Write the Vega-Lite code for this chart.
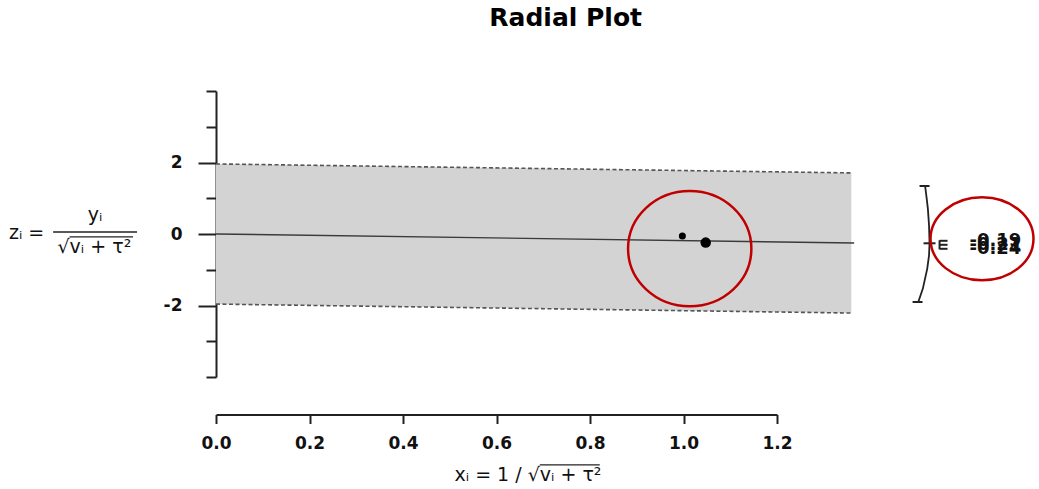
{
  "$schema": "https://vega.github.io/schema/vega-lite/v6.json",
  "width": 561,
  "height": 286,
  "autosize": {"type": "none"},
  "padding": {"left": 216, "top": 91, "right": 262, "bottom": 112},
  "background": "white",
  "config": {"view": {"stroke": null}},
  "datasets": {
    "band": [
      {"x": 0, "y": -1.96, "y2": 1.96},
      {"x": 1.359, "y": -2.211, "y2": 1.709}
    ],
    "bounds": [
      {"x": 0, "y": 1.96, "side": "upper"},
      {"x": 1.359, "y": 1.709, "side": "upper"},
      {"x": 0, "y": -1.96, "side": "lower"},
      {"x": 1.359, "y": -2.211, "side": "lower"}
    ],
    "fit": [
      {"x": 0, "y": 0},
      {"x": 1.365, "y": -0.252}
    ],
    "studies": [
      {"study": "1", "x": 0.9976, "y": -0.056, "w": 0.31},
      {"study": "2", "x": 1.0475, "y": -0.2406, "w": 0.69}
    ],
    "arc": [
      {"x": 1.5171, "y": 1.315},
      {"x": 1.5199, "y": 1.027},
      {"x": 1.5227, "y": 0.7105},
      {"x": 1.5252, "y": 0.243},
      {"x": 1.5263, "y": -0.26},
      {"x": 1.5252, "y": -0.596},
      {"x": 1.5214, "y": -0.968},
      {"x": 1.512, "y": -1.527},
      {"x": 1.5028, "y": -1.883}
    ],
    "hsegs": [
      {"part": "arc top tick", "x": 1.5049, "x2": 1.5263, "y": 1.343},
      {"part": "arc bottom tick", "x": 1.49, "x2": 1.5113, "y": -1.902},
      {"part": "arc estimate tick", "x": 1.5135, "x2": 1.5391, "y": -0.26},
      {"part": "label tick", "x": 1.5477, "x2": 1.5648, "y": -0.19},
      {"part": "label tick", "x": 1.5477, "x2": 1.5648, "y": -0.302},
      {"part": "label tick", "x": 1.5477, "x2": 1.5648, "y": -0.414},
      {"part": "fraction bar", "x": -0.3484, "x2": -0.1689, "y": 0.056},
      {"part": "root bar", "x": -0.3132, "x2": -0.1774, "y": -0.078},
      {"part": "root bar", "x": 0.6926, "x2": 0.8209, "y": -6.456}
    ],
    "vsegs": [
      {"x": 1.5477, "y": -0.176, "y2": -0.428}
    ],
    "estlabels": [
      {"x": 1.6118, "y": -0.19, "text": "-0.19"},
      {"x": 1.6118, "y": -0.302, "text": "-0.21"},
      {"x": 1.6118, "y": -0.414, "text": "-0.24"}
    ],
    "texts": [
      {"kind": "title", "x": 0.748, "y": 5.81, "text": "Radial Plot"},
      {"kind": "center", "x": -0.4051, "y": -0.129, "text": "zᵢ ="},
      {"kind": "center", "x": -0.2587, "y": 0.369, "text": "yᵢ"},
      {"kind": "right", "x": -0.3132, "y": -0.54, "text": "√"},
      {"kind": "left", "x": -0.3132, "y": -0.54, "text": "vᵢ + τ²"},
      {"kind": "right", "x": 0.6926, "y": -6.917, "text": "xᵢ = 1 / √"},
      {"kind": "left", "x": 0.6926, "y": -6.917, "text": "vᵢ + τ²"}
    ],
    "marks": [
      {"id": "a", "x": 1.0133, "y": -0.408},
      {"id": "b", "x": 1.6385, "y": -0.134}
    ]
  },
  "encoding": {
    "x": {
      "field": "x", "type": "quantitative",
      "scale": {"domain": [0, 1.2], "nice": false, "zero": false},
      "axis": {
        "values": [0, 0.2, 0.4, 0.6, 0.8, 1, 1.2],
        "format": ".1f",
        "title": null, "grid": false,
        "offset": 37.5,
        "tickSize": 9, "tickWidth": 2, "tickColor": "#222",
        "domainColor": "#222", "domainWidth": 2,
        "labelFont": "DejaVu Sans", "labelFontWeight": "bold", "labelFontSize": 17,
        "labelColor": "#111", "labelPadding": 12,
        "labelFlush": false, "labelOverlap": false
      }
    },
    "y": {
      "field": "y", "type": "quantitative",
      "scale": {"domain": [-4, 4], "nice": false, "zero": false},
      "axis": {
        "values": [-4, -3, -2, -1, 0, 1, 2, 3, 4],
        "labelExpr": "datum.value === 2 ? '2' : datum.value === 0 ? '0' : datum.value === -2 ? '-2' : ''",
        "title": null, "grid": false,
        "tickSize": {"condition": {"test": "datum.value === 2 || datum.value === 0 || datum.value === -2", "value": 18}, "value": 10},
        "tickWidth": 2, "tickColor": "#222",
        "domainColor": "#222", "domainWidth": 2,
        "labelFont": "DejaVu Sans", "labelFontWeight": "bold", "labelFontSize": 17,
        "labelColor": "#111", "labelPadding": 16,
        "labelOverlap": false, "labelFlush": false
      }
    }
  },
  "layer": [
    {
      "data": {"name": "band"},
      "mark": {"type": "area", "color": "#d3d3d3", "opacity": 1},
      "encoding": {"y2": {"field": "y2"}}
    },
    {
      "data": {"name": "bounds"},
      "mark": {"type": "line", "color": "#555", "strokeWidth": 1.6, "strokeDash": [4, 2.5]},
      "encoding": {"detail": {"field": "side"}}
    },
    {
      "data": {"name": "fit"},
      "mark": {"type": "line", "color": "#3a3a3a", "strokeWidth": 1.4},
      "encoding": {}
    },
    {
      "data": {"name": "studies"},
      "mark": {"type": "point", "shape": "circle", "filled": true, "color": "black", "opacity": 1},
      "encoding": {
        "size": {"field": "w", "type": "quantitative", "scale": {"domain": [0, 0.69], "range": [0, 110], "zero": true}, "legend": null}
      }
    },
    {
      "data": {"name": "arc"},
      "mark": {"type": "line", "color": "#222", "strokeWidth": 1.8},
      "encoding": {"order": {"field": "y", "type": "quantitative", "sort": "descending"}}
    },
    {
      "data": {"name": "hsegs"},
      "transform": [{"filter": "datum.part !== 'fraction bar' && datum.part !== 'root bar'"}],
      "mark": {"type": "rule", "color": "#222", "strokeWidth": 2},
      "encoding": {"x2": {"field": "x2"}}
    },
    {
      "data": {"name": "hsegs"},
      "transform": [{"filter": "datum.part === 'fraction bar' || datum.part === 'root bar'"}],
      "mark": {"type": "rule", "color": "#222", "strokeWidth": 1.3},
      "encoding": {"x2": {"field": "x2"}}
    },
    {
      "data": {"name": "vsegs"},
      "mark": {"type": "rule", "color": "#222", "strokeWidth": 2},
      "encoding": {"y2": {"field": "y2"}}
    },
    {
      "data": {"name": "estlabels"},
      "mark": {"type": "text", "align": "left", "baseline": "middle", "font": "DejaVu Sans", "fontWeight": "bold", "fontSize": 18, "color": "#111"},
      "encoding": {"text": {"field": "text"}}
    },
    {
      "data": {"name": "texts"},
      "transform": [{"filter": "datum.kind === 'title'"}],
      "mark": {"type": "text", "align": "center", "baseline": "alphabetic", "font": "DejaVu Sans", "fontWeight": "bold", "fontSize": 25, "color": "black"},
      "encoding": {"text": {"field": "text"}}
    },
    {
      "data": {"name": "texts"},
      "transform": [{"filter": "datum.kind === 'center'"}],
      "mark": {"type": "text", "align": "center", "baseline": "alphabetic", "font": "DejaVu Sans", "fontSize": 19, "color": "#111"},
      "encoding": {"text": {"field": "text"}}
    },
    {
      "data": {"name": "texts"},
      "transform": [{"filter": "datum.kind === 'right'"}],
      "mark": {"type": "text", "align": "right", "baseline": "alphabetic", "font": "DejaVu Sans", "fontSize": 19, "color": "#111"},
      "encoding": {"text": {"field": "text"}}
    },
    {
      "data": {"name": "texts"},
      "transform": [{"filter": "datum.kind === 'left'"}],
      "mark": {"type": "text", "align": "left", "baseline": "alphabetic", "font": "DejaVu Sans", "fontSize": 19, "color": "#111"},
      "encoding": {"text": {"field": "text"}}
    },
    {
      "data": {"name": "marks"},
      "transform": [{"filter": "datum.id === 'a'"}],
      "mark": {"type": "point", "shape": "M-1,0A1,0.935,0,1,1,1,0A1,0.935,0,1,1,-1,0Z", "size": 15203, "filled": false, "stroke": "#c00000", "strokeWidth": 2.5, "opacity": 1},
      "encoding": {}
    },
    {
      "data": {"name": "marks"},
      "transform": [{"filter": "datum.id === 'b'"}],
      "mark": {"type": "point", "shape": "M-1,0A1,0.806,0,1,1,1,0A1,0.806,0,1,1,-1,0Z", "size": 10609, "filled": false, "stroke": "#c00000", "strokeWidth": 2.5, "opacity": 1},
      "encoding": {}
    }
  ]
}
